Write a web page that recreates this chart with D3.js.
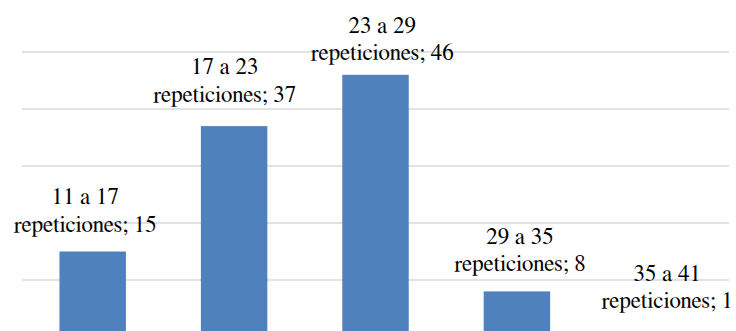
<!DOCTYPE html>
<html>
<head>
<meta charset="utf-8">
<script src="https://cdn.jsdelivr.net/npm/d3@7"></script>
</head>
<body style="margin:0">
<svg id="chart" width="736" height="331" style="display:block;background:#fff"></svg>
<script>
// ---- data ----
const categories = ["11 a 17", "17 a 23", "23 a 29", "29 a 35", "35 a 41"];
const counts = [15, 37, 46, 8, 1];
const unitLabel = "repeticiones";
const gridTicks = [10, 20, 30, 40, 50];

// ---- layout (manual label nudges as in the original) ----
const labelDx = [-7.5, -9.4, 6.7, 3, 9];
const labelDy = [0, -4.4, 5.2, 0, -3];

const plotLeft = 22, plotRight = 729;

const svg = d3.select("#chart");

const x = d3.scaleBand()
  .domain(categories)
  .range([plotLeft, plotRight])
  .paddingInner(0.53)
  .paddingOuter(0.265);

const y = d3.scaleLinear()
  .domain([0, 50])
  .range([337, 52]);

// gridlines
svg.append("g")
  .selectAll("line")
  .data(gridTicks)
  .join("line")
  .attr("x1", plotLeft)
  .attr("x2", plotRight)
  .attr("y1", d => y(d))
  .attr("y2", d => y(d))
  .attr("stroke", "#D9D9D9")
  .attr("stroke-width", 1.5);

// bars
svg.append("g")
  .selectAll("rect")
  .data(categories)
  .join("rect")
  .attr("x", d => x(d))
  .attr("width", x.bandwidth())
  .attr("y", (d, i) => y(counts[i]))
  .attr("height", (d, i) => y(0) - y(counts[i]))
  .attr("fill", "#4F81BD");

// labels
const lbl = svg.append("g");

categories.forEach((c, i) => {
  const cx = x(c) + x.bandwidth() / 2 + labelDx[i];
  const base = y(counts[i]) - 20 + labelDy[i];
  [[c, base - 27.5], [unitLabel + "; " + counts[i], base]].forEach(([s, yy]) => {
    lbl.append("text")
      .attr("x", cx)
      .attr("y", yy)
      .attr("text-anchor", "middle")
      .style("font-family", "'Nimbus Roman', 'FreeSerif', 'Times New Roman', 'Tinos', 'Liberation Serif'")
      .style("font-size", "23px")
      .style("fill", "#000")
      .text(s);
  });
});
</script>
</body>
</html>
